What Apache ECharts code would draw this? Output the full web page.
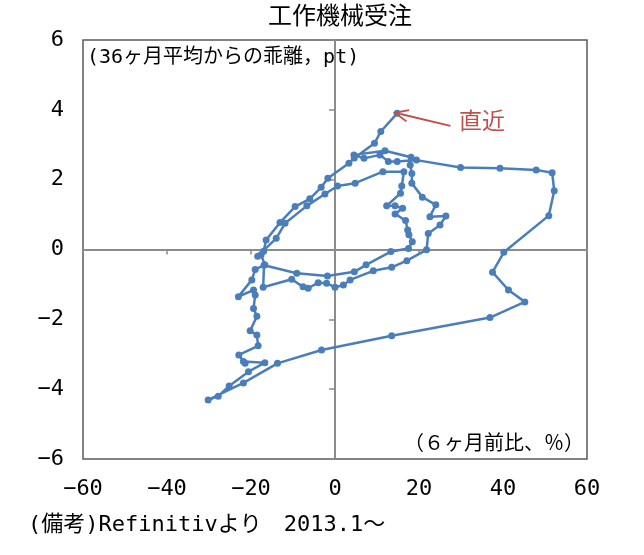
<!DOCTYPE html>
<html>
<head>
<meta charset="utf-8">
<script src="https://cdn.jsdelivr.net/npm/echarts@6/dist/echarts.min.js"></script>
<style>
  html, body { margin: 0; padding: 0; background: #fff; }
  #chart { width: 644px; height: 555px; }
</style>
</head>
<body>
<div id="chart"></div>
<script>
// 6ヶ月前比(%) — x
const changeSixMonth = [
  -17.6, -16.7, -19.0, -19.8, -23.0, -19.4, -19.0, -19.4, -18.6, -20.2,
  -18.6, -18.3, -22.9, -21.8, -21.4, -16.7, -20.6, -25.2, -27.8, -30.2,
  -21.8, -13.7, -3.2, 13.5, 36.9, 45.2, 41.3, 37.5, 40.2, 50.9,
  52.2, 51.7, 47.9, 39.3, 29.9, 19.4, 14.8, 12.7, 10.7, 6.9,
  4.5, 11.9, 18.1, 17.9, 18.3, 18.3, 20.8, 24.0, 22.6, 26.4,
  25.0, 22.2, 21.8, 17.1, 13.5, 9.1, 3.6, 2.0, 0.0, -2.0,
  -4.0, -6.4, -7.6, -10.3, -17.1, -16.9, -9.1, -1.8, 4.6, 7.4,
  13.3, 17.5, 18.4, 17.6, 17.3, 16.8, 14.3, 16.1, 14.3, 12.3,
  15.6, 15.9, 16.4, 11.4, 4.8, 0.6, -2.4, -6.7, -11.9, -14.0,
  -18.4, -17.0, -16.4, -13.1, -9.5, -6.0, -3.3, -1.7, 3.3, 4.6,
  9.4, 10.9, 14.8
];
// 36ヶ月平均からの乖離(pt) — y
const deviation36 = [
  -0.15, -0.44, -0.57, -0.87, -1.35, -1.16, -1.30, -1.69, -1.91, -2.33,
  -2.45, -2.76, -3.02, -3.21, -3.26, -3.24, -3.50, -3.91, -4.20, -4.31,
  -3.82, -3.26, -2.88, -2.47, -1.95, -1.50, -1.16, -0.65, -0.08, 0.97,
  1.68, 2.20, 2.28, 2.33, 2.35, 2.56, 2.52, 2.52, 2.71, 2.61,
  2.71, 2.83, 2.64, 2.42, 2.18, 1.90, 1.50, 1.28, 0.94, 0.96,
  0.70, 0.46, -0.01, -0.32, -0.51, -0.61, -0.87, -1.02, -1.08, -0.97,
  -0.95, -1.11, -1.07, -0.85, -1.08, -0.45, -0.68, -0.76, -0.64, -0.44,
  -0.06, 0.03, 0.22, 0.42, 0.56, 0.83, 1.02, 1.18, 1.25, 1.25,
  1.61, 1.82, 2.23, 2.23, 1.90, 1.82, 1.59, 1.25, 0.75, 0.32,
  -0.19, -0.05, 0.27, 0.77, 1.23, 1.45, 1.78, 2.04, 2.47, 2.62,
  3.04, 3.38, 3.90
];
const xTicks = { min: -60, max: 60, interval: 20 };
const yTicks = { min: -6, max: 6, interval: 2 };

// monospace latin + CJK fallback, close to the gothic look of the original
const FONT = '"DejaVu Sans Mono", "Noto Sans CJK JP", monospace';
const BLUE = '#4A7EBB';
const RED = '#C0504D';
const AXIS_GRAY = '#8c8c8c';

const points = changeSixMonth.map((x, i) => [x, deviation36[i]]);
const last = points[points.length - 1];

const minusFmt = (v) => String(v).replace('-', '\u2212');

const chart = echarts.init(document.getElementById('chart'), null, { renderer: 'canvas' });

const option = {
  animation: false,
  title: {
    text: '工作機械受注',
    left: 335,
    top: 1,
    textAlign: 'center',
    textStyle: { fontFamily: FONT, fontSize: 24, fontWeight: 'normal', color: '#000' },
  },
  grid: {
    left: 83,
    right: 57,
    top: 40,
    bottom: 96,
    show: true,
    borderColor: '#595959',
    borderWidth: 1.5,
  },
  xAxis: [
    {
      type: 'value',
      ...xTicks,
      axisLine: { show: false, onZero: false },
      axisTick: { show: false },
      splitLine: { show: false },
      axisLabel: { fontFamily: FONT, fontSize: 22, color: '#000', margin: 19, formatter: minusFmt },
    },
    {
      type: 'value',
      ...xTicks,
      position: 'bottom',
      axisLine: { show: true, onZero: true, onZeroAxisIndex: 0, lineStyle: { color: AXIS_GRAY, width: 2 } },
      axisTick: { show: true, length: 5, lineStyle: { color: AXIS_GRAY, width: 1.5 } },
      axisLabel: { show: false },
      splitLine: { show: false },
    },
  ],
  yAxis: [
    {
      type: 'value',
      ...yTicks,
      axisLine: { show: false, onZero: false },
      axisTick: { show: false },
      splitLine: { show: false },
      axisLabel: {
        fontFamily: FONT, fontSize: 22, color: '#000', margin: 19,
        padding: [8, 0, 0, 0], formatter: minusFmt,
      },
    },
    {
      type: 'value',
      ...yTicks,
      position: 'left',
      axisLine: { show: true, onZero: true, onZeroAxisIndex: 0, lineStyle: { color: AXIS_GRAY, width: 2 } },
      axisTick: { show: true, length: 6, lineStyle: { color: AXIS_GRAY, width: 1.5 } },
      axisLabel: { show: false },
      splitLine: { show: false },
    },
  ],
  series: [
    {
      type: 'line',
      xAxisIndex: 0,
      yAxisIndex: 0,
      data: points,
      symbol: 'circle',
      symbolSize: 7,
      lineStyle: { color: BLUE, width: 2.5 },
      itemStyle: { color: BLUE },
      markLine: {
        silent: true,
        symbol: ['none', 'path://M50,0 L100,82 L89,88 L50,24 L11,88 L0,82 Z'],
        symbolSize: [13, 16],
        lineStyle: { color: RED, width: 2, type: 'solid' },
        label: { show: false },
        data: [[{ coord: [last[0] + 12.7, last[1] - 0.36] }, { coord: [last[0] + 0.8, last[1] - 0.02] }]],
      },
    },
  ],
  graphic: [
    {
      type: 'text',
      left: 459,
      top: 112,
      style: { text: '直近', fontFamily: FONT, fontSize: 23, fill: RED },
    },
    {
      type: 'text',
      left: 87,
      top: 48,
      style: { text: '(36ヶ月平均からの乖離，pt)', fontFamily: FONT, fontSize: 20, fill: '#000' },
    },
    {
      type: 'text',
      right: 60,
      top: 435,
      style: { text: '（６ヶ月前比、％）', fontFamily: FONT, fontSize: 20, fill: '#000' },
    },
    {
      type: 'text',
      left: 28,
      top: 514,
      style: { text: '(備考)Refinitivより　2013.1～', fontFamily: FONT, fontSize: 22, fill: '#000' },
    },
  ],
};

chart.setOption(option);
</script>
</body>
</html>
